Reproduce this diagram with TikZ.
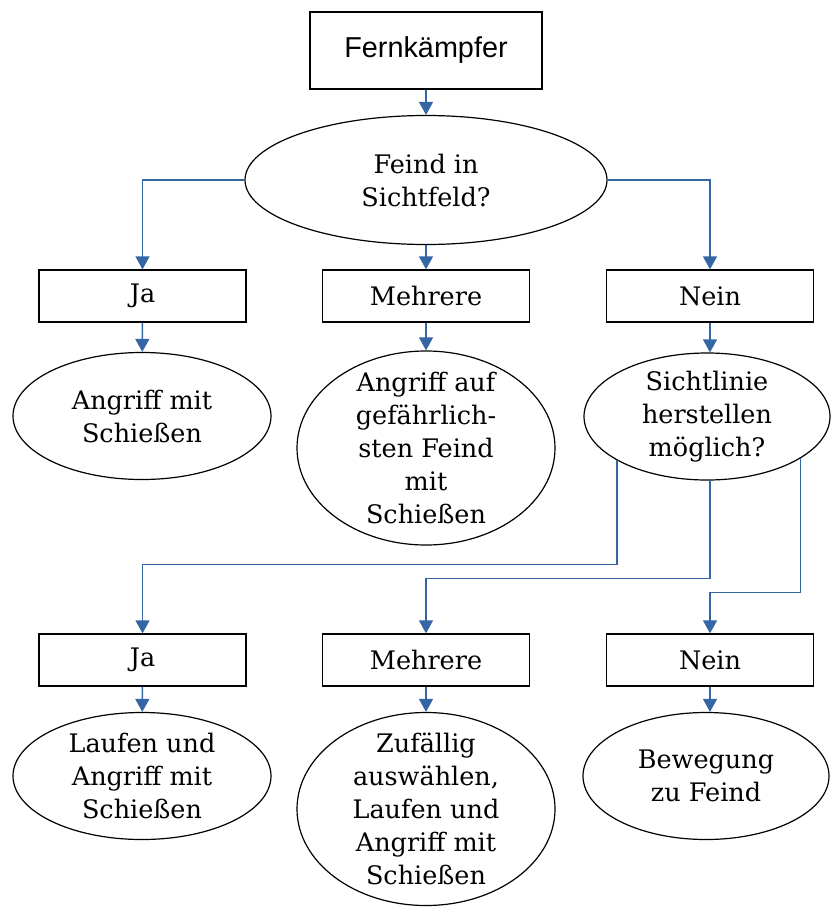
\documentclass[tikz,border=0pt]{standalone}
\usepackage{fontspec}
\setmainfont{DejaVu Serif}
\newfontfamily\sansf{Liberation Sans}
\usetikzlibrary{arrows.meta,shapes.geometric}
\definecolor{arrblue}{RGB}{52,101,164}
\begin{document}
\begin{tikzpicture}[x=1pt,y=-1pt,
  txt/.style={align=center,font=\fontsize{25.5}{33}\selectfont,inner sep=0pt},
  box/.style={draw=black,line width=1.3pt,rectangle,minimum width=207pt,minimum height=52pt,inner sep=0pt,font=\fontsize{25.5}{33}\selectfont},
  ell/.style={draw=black,line width=1.2pt,ellipse,inner sep=0pt},
  arr/.style={draw=arrblue,line width=1.4pt,-{Triangle[width=14pt,length=13pt]}}
]
\useasboundingbox (0,0) rectangle (830,907);

\node[draw=black,line width=1.3pt,rectangle,minimum width=232pt,minimum height=77pt,inner sep=0pt,font=\sansf\fontsize{28.8}{33}\selectfont] (top) at (426,50.5) {Fernkämpfer};

\node[ell,minimum width=362pt,minimum height=129pt,
  label={[txt]center:Feind in\\Sichtfeld?}] (e1) at (426,180) {};

\node[box] (ja1) at (142.5,296) {Ja};
\node[box] (m1) at (426,296) {Mehrere};
\node[box] (n1) at (710,296) {Nein};

\node[ell,minimum width=258pt,minimum height=127pt,
  label={[txt]center:Angriff mit\\Schießen}] (a1) at (142,416) {};
\node[ell,minimum width=258pt,minimum height=194pt,
  label={[txt]center:Angriff auf\\gefährlich-\\sten Feind\\mit\\Schießen}] (a2) at (426,448) {};
\node[ell,minimum width=246pt,minimum height=127pt,
  label={[txt]center:Sichtlinie\\herstellen\\möglich?}] (s) at (707,416.5) {};

\node[box] (ja2) at (142.5,660) {Ja};
\node[box] (m2) at (426,660) {Mehrere};
\node[box] (n2) at (710,660) {Nein};

\node[ell,minimum width=258pt,minimum height=127pt,
  label={[txt]center:Laufen und\\Angriff mit\\Schießen}] (b1) at (142,776) {};
\node[ell,minimum width=258pt,minimum height=193pt,
  label={[txt]center:Zufällig\\auswählen,\\Laufen und\\Angriff mit\\Schießen}] (b2) at (426,809) {};
\node[ell,minimum width=246pt,minimum height=127pt,
  label={[txt]center:Bewegung\\zu Feind}] (b3) at (706,776) {};

\draw[arr] (top) -- (e1);
\draw[arr] (e1.west) -| (ja1.north);
\draw[arr] (e1) -- (m1);
\draw[arr] (e1.east) -| (n1.north);

\draw[arr] (ja1) -- (a1);
\draw[arr] (m1) -- (a2);
\draw[arr] (n1.south) -- (n1.south |- s.north);

\draw[arr] (s.206) -- ++(0,104) -| (ja2.north);
\draw[arr] (s.south -| n1.south) -- ++(0,98) -| (m2.north);
\draw[arr] (s.336) -- ++(0,134) -| (n2.north);

\draw[arr] (ja2) -- (b1);
\draw[arr] (m2) -- (b2);
\draw[arr] (n2.south) -- (n2.south |- b3.north);
\end{tikzpicture}
\end{document}
